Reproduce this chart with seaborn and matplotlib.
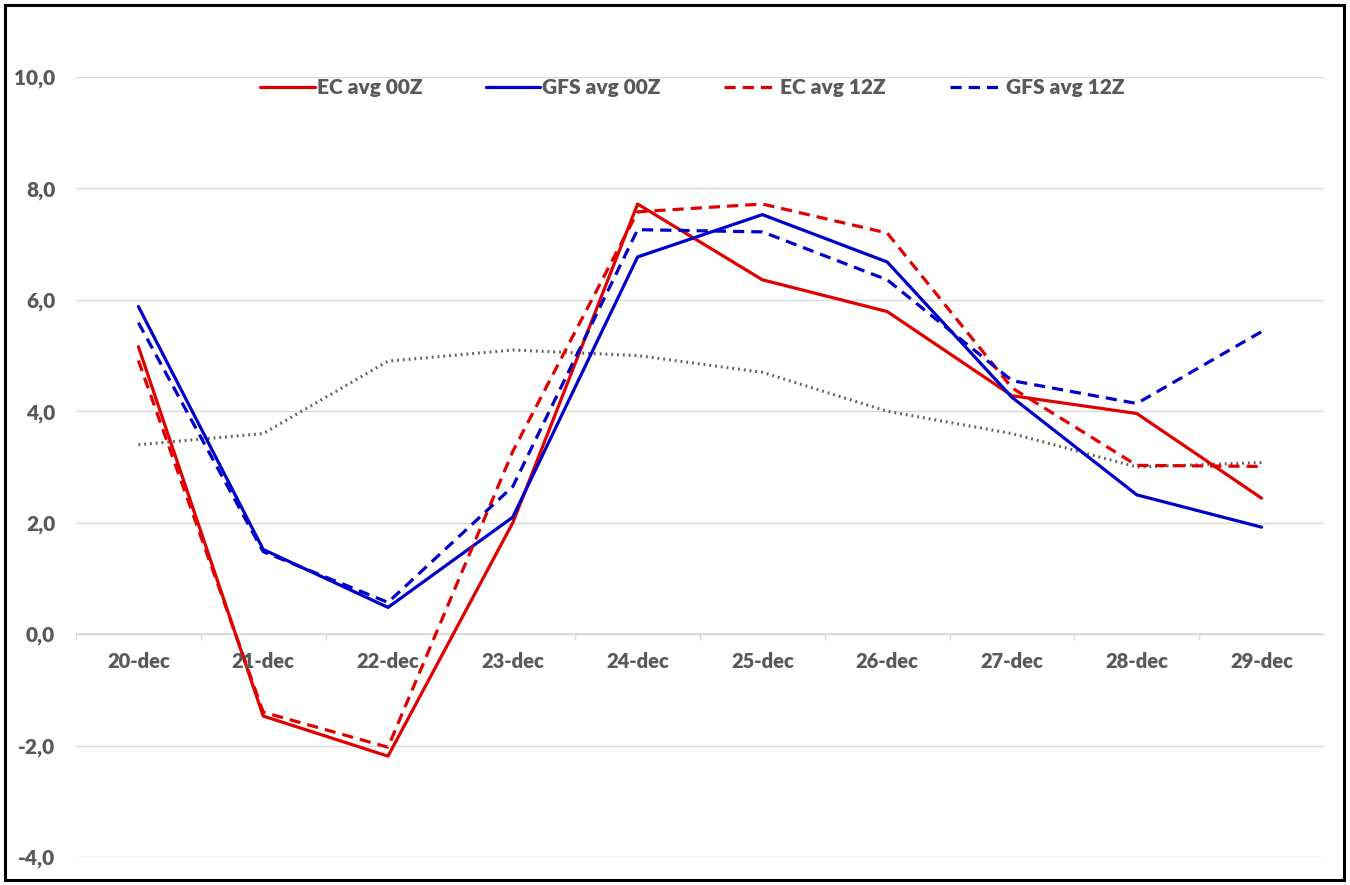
import matplotlib
matplotlib.use("Agg")
import matplotlib.pyplot as plt
import seaborn as sns
import numpy as np
import pandas as pd
from matplotlib.patches import Rectangle
from matplotlib.ticker import FuncFormatter

dates = ["20-dec", "21-dec", "22-dec", "23-dec", "24-dec", "25-dec",
         "26-dec", "27-dec", "28-dec", "29-dec"]
ec_00 = [5.16, -1.47, -2.19, 2.0, 7.72, 6.36, 5.79, 4.28, 3.96, 2.44]
gfs_00 = [5.88, 1.52, 0.48, 2.1, 6.77, 7.53, 6.68, 4.25, 2.5, 1.92]
ec_12 = [4.91, -1.40, -2.03, 3.28, 7.58, 7.72, 7.2, 4.42, 3.03, 3.01]
gfs_12 = [5.59, 1.48, 0.57, 2.65, 7.26, 7.22, 6.36, 4.55, 4.14, 5.43]
normal = [3.4, 3.6, 4.9, 5.1, 5.0, 4.7, 4.0, 3.6, 3.0, 3.08]
yticks = [-4, -2, 0, 2, 4, 6, 8, 10]
labels = ["EC avg 00Z", "GFS avg 00Z", "EC avg 12Z", "GFS avg 12Z"]

sns.set_theme(style="white")
plt.rcParams['font.family'] = ['Lato', 'DejaVu Sans']

fig = plt.figure(figsize=(13.5, 8.85), dpi=100)
ax = fig.add_axes([76/1350, 1-857/885, (1324-76)/1350, (857-77)/885])

RED = "#E00000"
BLUE = "#0000C8"
GRAY = "#606060"
TXT = "#595959"
GRID = "#D9D9D9"

df = pd.DataFrame({"date": dates, "ec00": ec_00, "gfs00": gfs_00,
                   "ec12": ec_12, "gfs12": gfs_12, "norm": normal})

sns.lineplot(data=df, x="date", y="norm", ax=ax, color=GRAY, lw=2.2,
             linestyle=(0, (0.6, 1.3)), sort=False)
l1 = sns.lineplot(data=df, x="date", y="ec00", ax=ax, color=RED, lw=2.3, sort=False).lines[-1]
l2 = sns.lineplot(data=df, x="date", y="gfs00", ax=ax, color=BLUE, lw=2.3, sort=False).lines[-1]
l3 = sns.lineplot(data=df, x="date", y="ec12", ax=ax, color=RED, lw=2.3,
                  linestyle=(0, (3.5, 2.2)), sort=False).lines[-1]
l4 = sns.lineplot(data=df, x="date", y="gfs12", ax=ax, color=BLUE, lw=2.3,
                  linestyle=(0, (3.5, 2.2)), sort=False).lines[-1]

ax.set_xlim(-0.5, len(dates) - 0.5)
ax.set_ylim(-4, 10)
ax.set_xlabel("")
ax.set_ylabel("")
ax.set_yticks(yticks)
ax.yaxis.set_major_formatter(FuncFormatter(lambda v, p: f"{v:.1f}".replace(".", ",")))
ax.grid(axis="y", color=GRID, lw=1.0)
ax.set_axisbelow(True)
for s in ax.spines.values():
    s.set_visible(False)

ax.axhline(0, color=GRID, lw=1.2, zorder=1)
bounds = np.arange(-0.5, len(dates), 1.0)
ax.vlines(bounds, -0.11, 0, color=GRID, lw=1.0, zorder=1)

ax.tick_params(axis="y", length=0, pad=15)
for lab in ax.get_yticklabels():
    lab.set_fontsize(15)
    lab.set_fontweight("heavy")
    lab.set_color(TXT)
ax.set_xticks(range(len(dates)))
ax.set_xticklabels([])
ax.tick_params(axis="x", length=0)
for i, d in enumerate(dates):
    ax.text(i, -0.5, d, ha="center", va="center", fontsize=14.5,
            fontweight="heavy", color=TXT)

leg = ax.legend([l1, l2, l3, l4], labels,
                loc="center", bbox_to_anchor=(0.494, 0.986), ncol=4, frameon=False,
                handlelength=2.6, handletextpad=0.1, columnspacing=3.05,
                prop={"size": 15, "weight": "heavy"})
for t in leg.get_texts():
    t.set_color(TXT)

fig.patches.append(Rectangle((5/1350, 1-880/885), 1339/1350, 875/885,
                             transform=fig.transFigure, fill=False,
                             edgecolor="black", lw=2.2, zorder=10))

fig.savefig("out.png", dpi=100)
